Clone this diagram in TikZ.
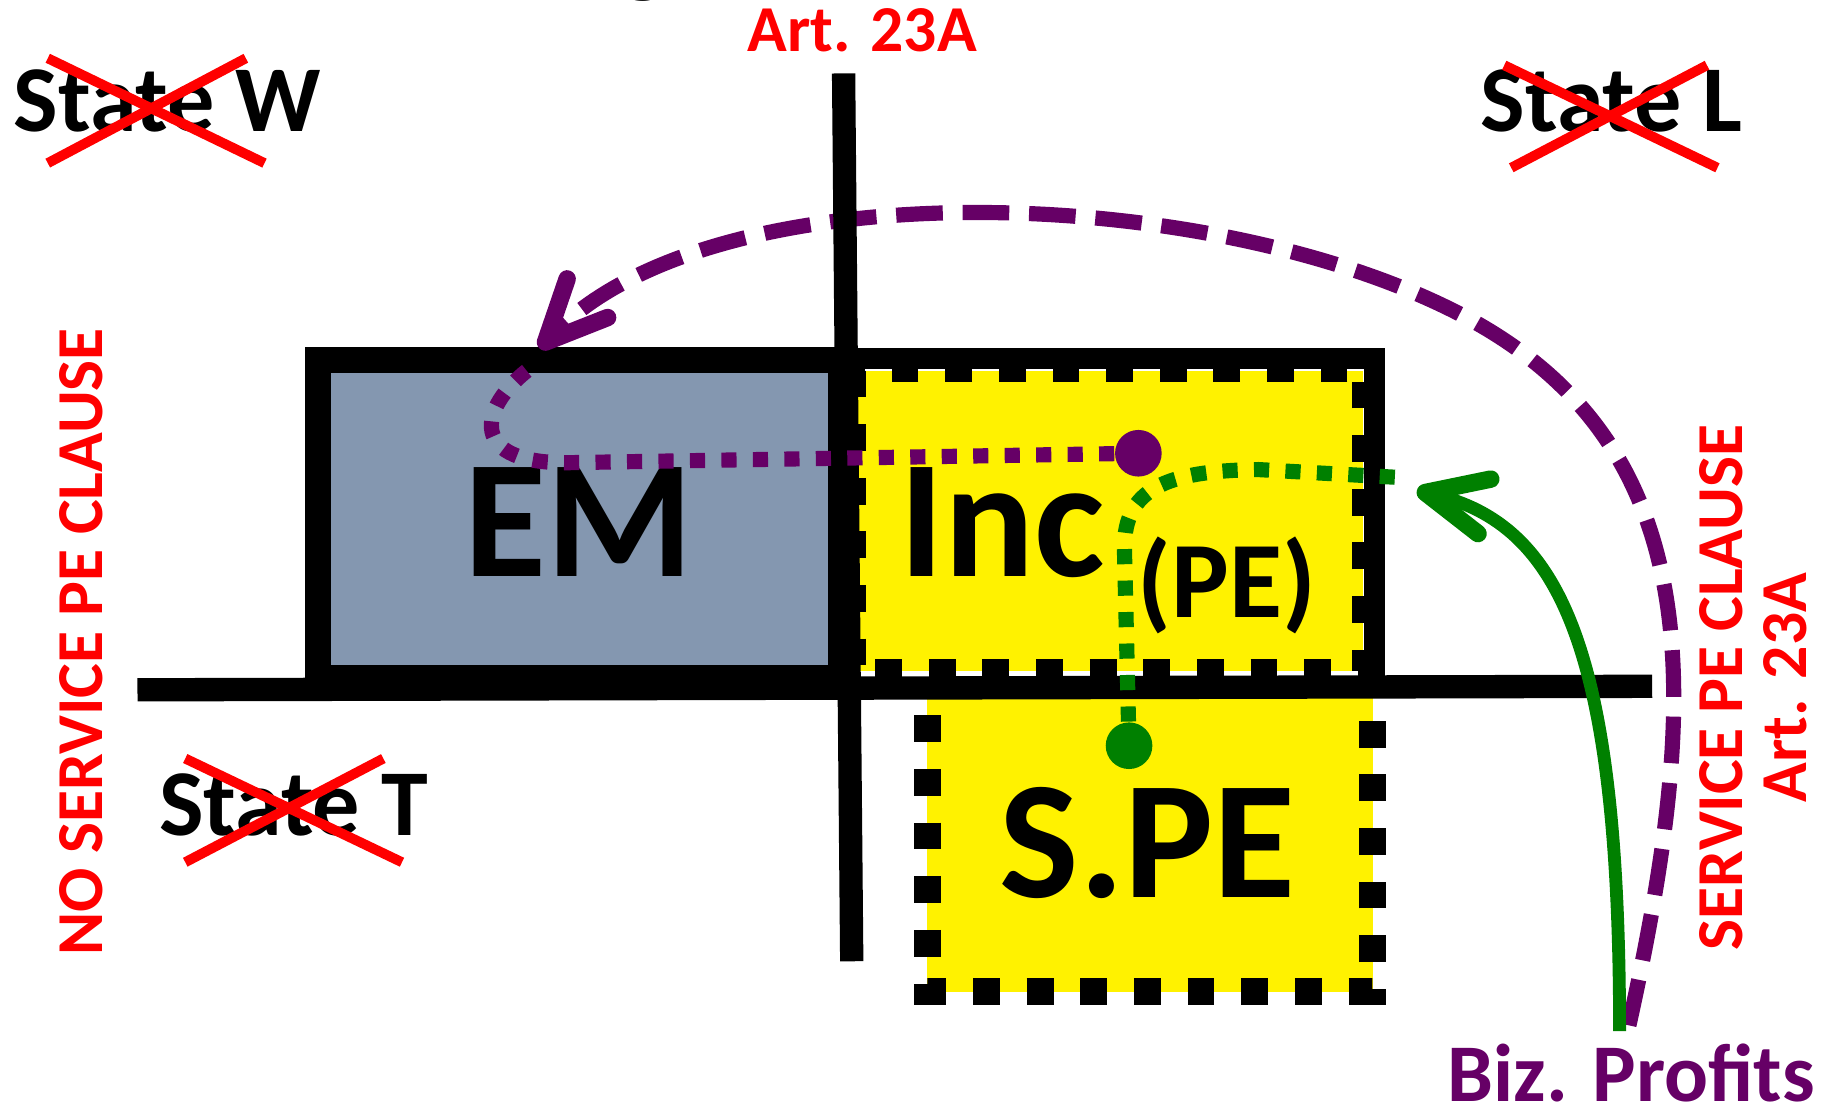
\documentclass[tikz,border=0pt]{standalone}
\usepackage{fontspec}
\setmainfont{Carlito}
\usetikzlibrary{arrows.meta}
\tikzset{>=latex}
\definecolor{emgray}{RGB}{132,151,176}
\definecolor{bizpurple}{RGB}{102,0,102}
\definecolor{pegreen}{RGB}{0,128,0}
\tikzset{
  boxline/.style={line width=0.2cm, black},
  crossout/.style={line width=0.085cm, red},
  sqdash/.style={line width=0.23cm, dash pattern=on 0.23cm off 0.23cm},
  purpledots/.style={bizpurple, line width=0.13cm, dash pattern=on 0.13cm off 0.14cm},
  greendots/.style={pegreen, line width=0.13cm, dash pattern=on 0.13cm off 0.14cm},
  flowdot/.style={circle, inner sep=0pt, minimum size=0.4cm},
  barb/.style={-{Straight Barb[length=5.2mm, width=4.8mm, line width=0.15cm, round]}},
  bigtxt/.style={font=\fontsize{41}{41}\selectfont\bfseries, inner sep=0pt},
  statetxt/.style={font=\fontsize{23}{23}\selectfont\bfseries, inner sep=0pt},
  redtxt/.style={red, font=\fontsize{16}{15.6}\selectfont\bfseries, inner sep=0pt},
}

\begin{document}
\begin{tikzpicture}[x=0.01cm, y=-0.01cm]
    \useasboundingbox (0,0) rectangle (1568,957);

    % boxes
    \draw[boxline, line width=0.22cm, fill=emgray] (273,309) rectangle (722,582);
    \draw[sqdash, line width=0.2cm, fill=yellow] (733,318) rectangle (1170,576);
    \draw[boxline, line width=0.18cm] (727,308) rectangle (1180,590);
    \fill[yellow] (796,598) rectangle (1178,851);
    \draw[sqdash] (796,614) -- (796,851) -- (1178,851) -- (1178,610);

    % long dashed arrow
    \coordinate (purplestart) at (1398,880);
    \coordinate (emtip) at (463,299);
    \draw[bizpurple, line width=0.13cm, dash pattern=on 0.4cm off 0.17cm, barb]
        (purplestart) .. controls (1460,600) and (1470,380) .. (1250,268)
        .. controls (1030,156) and (610,145) .. (emtip);

    % borders
    \draw[boxline] (118,592) -- (1418,589);
    \draw[boxline] (724,63) -- (731,825);

    % labels inside boxes
    \node[bigtxt, anchor=base] (em) at (497,495) {EM};
    \node[bigtxt, anchor=base] (inc) at (860,495) {Inc};
    \node[font=\fontsize{26.5}{26.5}\selectfont\bfseries, inner sep=0pt, anchor=base] (pe) at (1053,530) {(PE)};
    \node[bigtxt, anchor=base] (spe) at (985,770) {S.PE};

    % flows
    \node[flowdot, fill=bizpurple] (incdot) at (977,389) {};
    \node[flowdot, fill=pegreen] (spedot) at (969,640) {};
    \coordinate (emin) at (455,316);
    \coordinate (incout) at (1205,410);
    \draw[purpledots] (incdot) -- (493,397) .. controls (400,400) and (410,350) .. (emin);
    \draw[greendots] (spedot) -- (965,470) .. controls (965,420) and (1000,404) .. (1080,403) -- (incout);

    \coordinate (greenstart) at (1390,885);
    \coordinate (inctip) at (1216,421);
    \draw[pegreen, line width=0.11cm, barb] (greenstart) .. controls (1390,560) and (1340,450) .. (inctip);

    % states
    \node[statetxt, anchor=base west] (statew) at (11,113) {State W};
    \draw[crossout] (41,50) -- (227,140);
    \draw[crossout] (211,50) -- (41,140);
    \node[statetxt, anchor=base west] (statel) at (1270,113) {State L};
    \draw[crossout] (1291,56) -- (1474,144);
    \draw[crossout] (1465,56) -- (1297,144);
    \node[statetxt, anchor=base west] (statet) at (136,717) {State T};
    \draw[crossout] (159,651) -- (345,740);
    \draw[crossout] (329,651) -- (159,740);

    % clauses
    \node[redtxt, anchor=base] (art) at (740,44) {Art. 23A};
    \node[redtxt, rotate=90] (noclause) at (70,551) {NO SERVICE PE CLAUSE};
    \node[redtxt, rotate=90, align=center] (clause) at (1505,590) {SERVICE PE CLAUSE\\Art. 23A};
    \node[bizpurple, font=\fontsize{20}{20}\selectfont\bfseries, inner sep=0pt, anchor=base] (biz) at (1400,945) {Biz. Profits};
    \node[font=\fontsize{24}{24}\selectfont, inner sep=0pt, anchor=base] (title) at (552,-13) {g};
\end{tikzpicture}
\end{document}
